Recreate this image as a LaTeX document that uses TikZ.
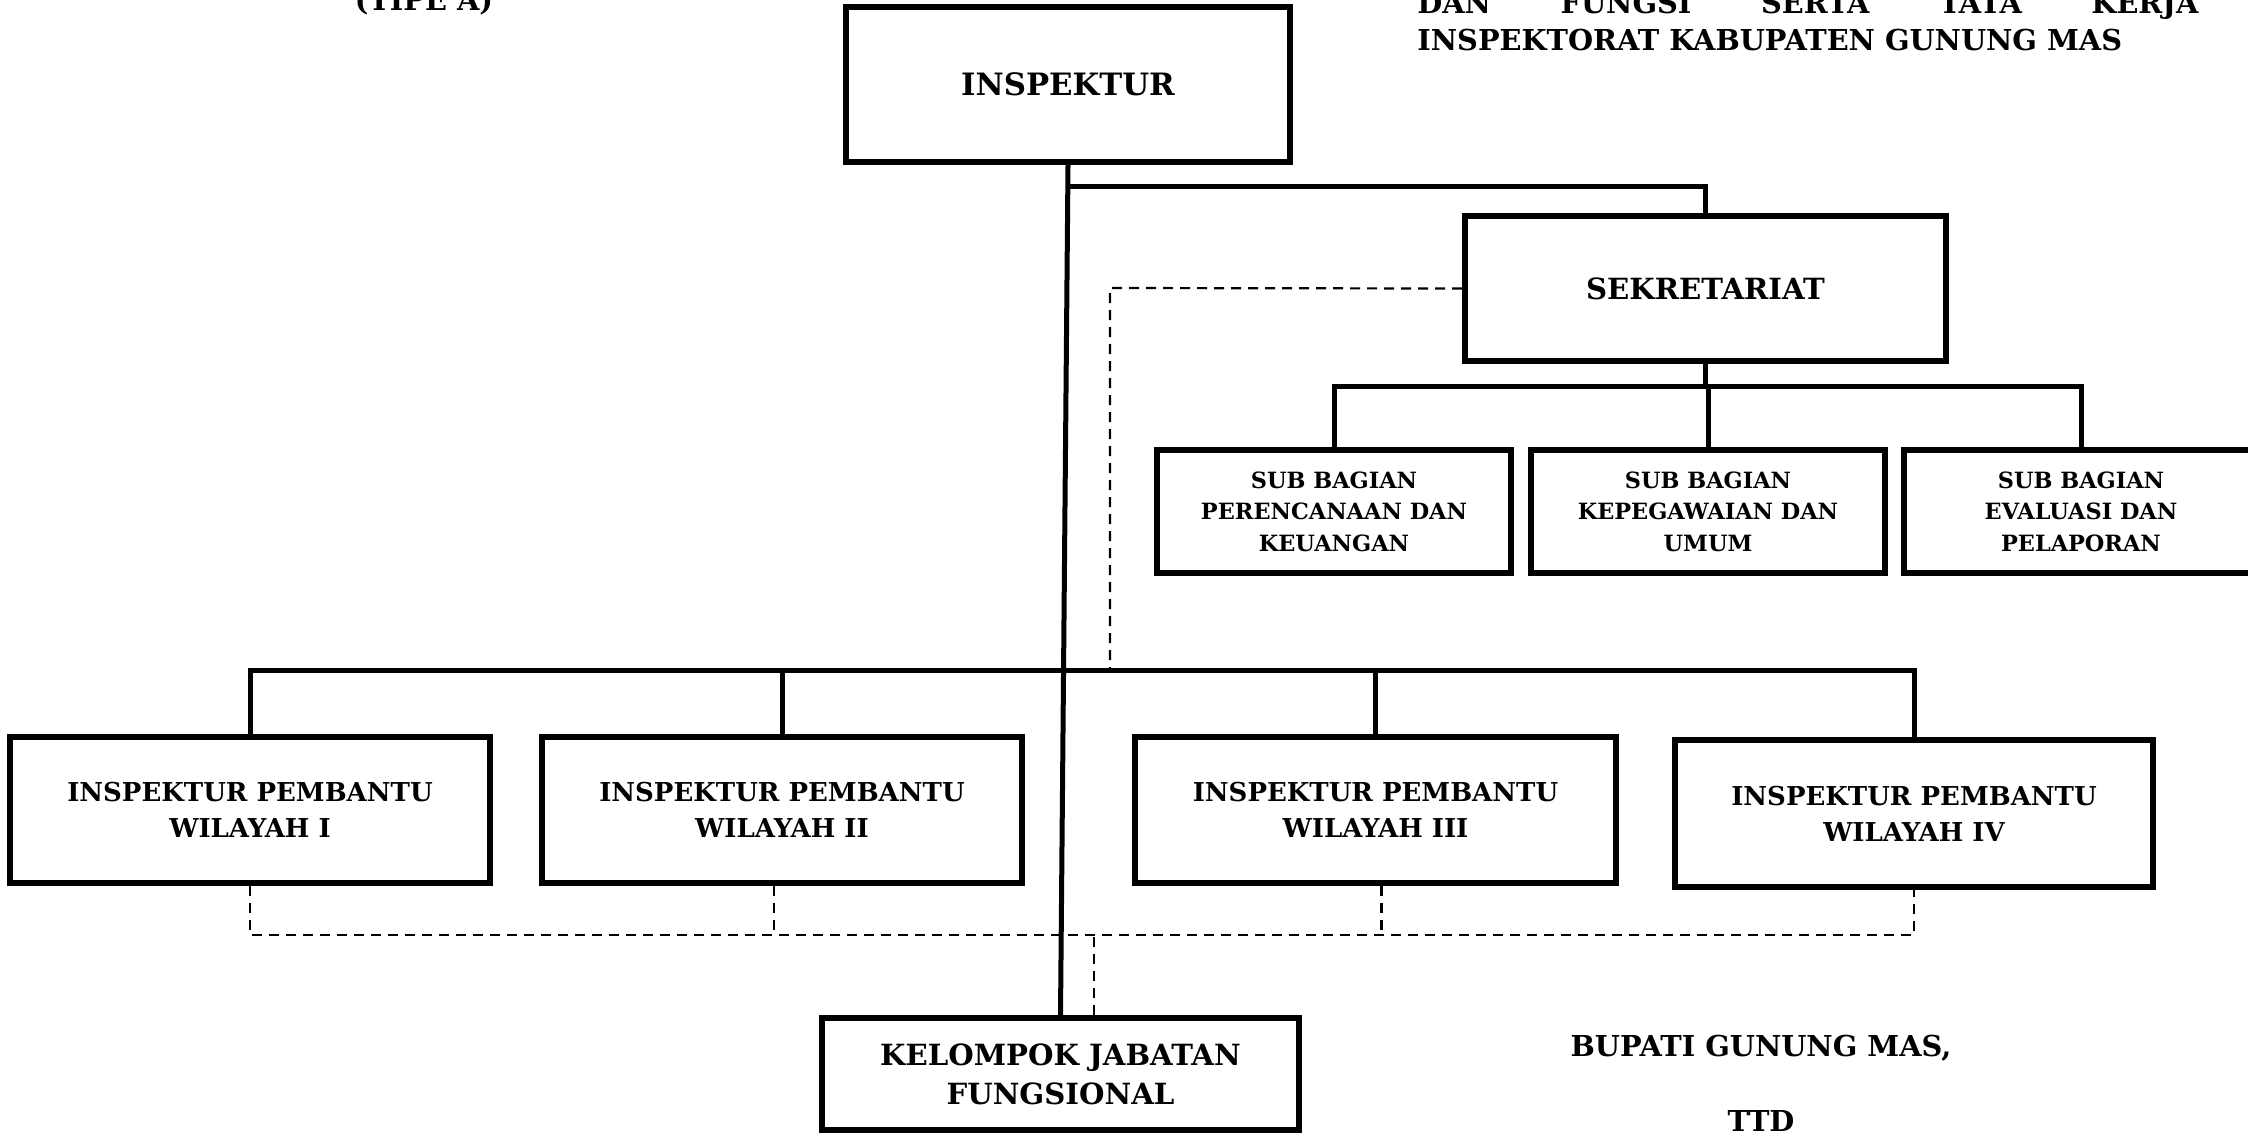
\documentclass[tikz,border=0pt]{standalone}
\usepackage{fontspec}
\setmainfont{DejaVu Serif}
\usetikzlibrary{positioning}
\tikzstyle{box} = [draw, line width=3pt, align=center, inner sep=0pt, font=\bfseries\fontsize{13}{18}\selectfont]
\tikzstyle{subbox} = [box, font=\bfseries\fontsize{11.2}{15.8}\selectfont]
\tikzstyle{label} = [inner sep=0pt, font=\bfseries\fontsize{14.4}{18}\selectfont]
\tikzstyle{line} = [line width=2.5pt]
\tikzstyle{dashline} = [line width=1.1pt, dash pattern=on 5pt off 3.5pt]

\begin{document}
\begin{tikzpicture}[x=0.5pt, y=-0.5pt]
	\useasboundingbox (0,0) rectangle (2248,1132);
	% heading
	\node[label, anchor=base]       (tipe)   at (424,10)    {(TIPE A)};
	\node[label, anchor=base west]  (judul1) at (1417,13)   {\makebox[390.5pt][s]{DAN\hfill FUNGSI\hfill SERTA\hfill TATA\hfill KERJA}};
	\node[label, anchor=base west]  (judul2) at (1417,50)   {INSPEKTORAT KABUPATEN GUNUNG MAS};
	
	% boxes
	\node[box, minimum width=222pt, minimum height=77.5pt, font=\bfseries\fontsize{15.4}{18}\selectfont] (insp) at (1068,84.5) {INSPEKTUR};
	\node[box, minimum width=240.5pt, minimum height=72.5pt, font=\bfseries\fontsize{14.6}{18}\selectfont] (sekr) at (1705.5,288.5) {SEKRETARIAT};
	\node[subbox, minimum width=177pt, minimum height=61.5pt] (sub1) at (1334,511.5) {SUB BAGIAN\\PERENCANAAN DAN\\KEUANGAN};
	\node[subbox, minimum width=177pt, minimum height=61.5pt] (sub2) at (1708,511.5) {SUB BAGIAN\\KEPEGAWAIAN DAN\\UMUM};
	\node[subbox, minimum width=177pt, minimum height=61.5pt] (sub3) at (2081,511.5) {SUB BAGIAN\\EVALUASI DAN\\PELAPORAN};
	\node[box, minimum width=240pt, minimum height=73pt] (ipw1) at (250,810)    {INSPEKTUR PEMBANTU\\WILAYAH I};
	\node[box, minimum width=240pt, minimum height=73pt] (ipw2) at (782,810)    {INSPEKTUR PEMBANTU\\WILAYAH II};
	\node[box, minimum width=240.5pt, minimum height=73pt] (ipw3) at (1375.5,810) {INSPEKTUR PEMBANTU\\WILAYAH III};
	\node[box, minimum width=239pt, minimum height=73.5pt] (ipw4) at (1914,813.5) {INSPEKTUR PEMBANTU\\WILAYAH IV};
	\node[box, minimum width=238.5pt, minimum height=56pt, font=\bfseries\fontsize{14.6}{19.5}\selectfont] (kjf) at (1060.5,1074) {KELOMPOK JABATAN\\FUNGSIONAL};
	
	% signature
	\node[label] (bupati) at (1761,1048) {BUPATI GUNUNG MAS,};
	\node[label] (ttd)    at (1761,1121) {TTD};
	
	% lines
	\coordinate (bus1) at (0,186);
	\coordinate (bus2) at (0,386);
	\coordinate (bus3) at (0,670);
	\coordinate (bus4) at (0,935);
	\draw[line] (insp.south) -- (kjf.north);
	\draw[line] (insp.south |- bus1) -| (sekr.north);
	\draw[line] (sekr.south) -- (sekr.south |- bus2);
	\draw[line] (sub1.north) -- (sub1.north |- bus2) -- (sub3.north |- bus2) -- (sub3.north);
	\draw[line] (sub2.north) -- (sub2.north |- bus2);
	\draw[line] (ipw1.north) -- (ipw1.north |- bus3) -- (ipw4.north |- bus3) -- (ipw4.north);
	\draw[line] (ipw2.north) -- (ipw2.north |- bus3);
	\draw[line] (ipw3.north) -- (ipw3.north |- bus3);
	
	% dashed lines
	\draw[dashline] (sekr.west) -- (1110,288) -- (1110,670);
	\draw[dashline] (ipw1.south) -- (ipw1.south |- bus4) -- (ipw4.south |- bus4) -- (ipw4.south);
	\draw[dashline] ([xshift=-4pt]ipw2.south) -- ([xshift=-4pt]ipw2.south |- bus4);
	\draw[dashline] ([xshift=3pt]ipw3.south) -- ([xshift=3pt]ipw3.south |- bus4);
	\draw[dashline] (kjf.north -| 1094,0) -- (1094,935);
\end{tikzpicture}
\end{document}
